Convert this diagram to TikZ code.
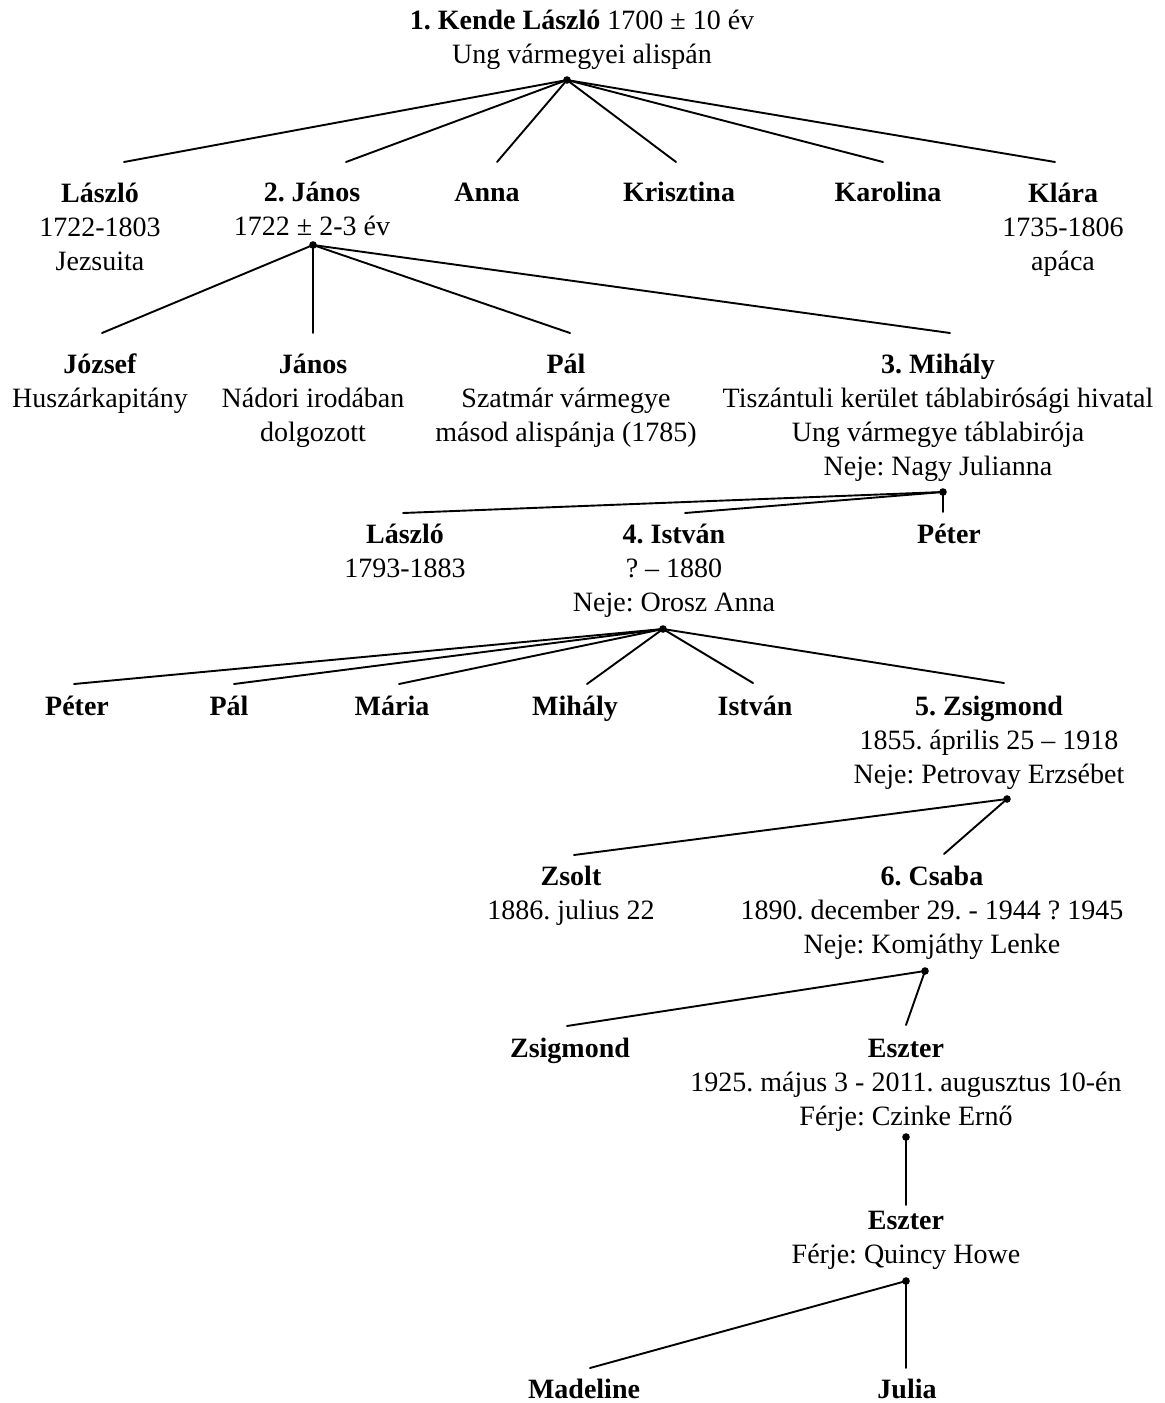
\documentclass[tikz,border=0pt]{standalone}
\usepackage{fontspec}
\setmainfont{Liberation Serif}
\frenchspacing
\begin{document}
\begin{tikzpicture}[x=0.5pt,y=-0.5pt,
  % nodes are placed by the baseline of their LAST line
  person/.style={align=center, anchor=base, inner sep=0pt, font=\fontsize{14}{17}\selectfont},
  dot/.style={circle, fill=black, inner sep=0pt, minimum size=3.8pt},
  link/.style={line width=0.95pt, line cap=round}]
\useasboundingbox[fill=white] (0,0) rectangle (1164,1403);

% generation 1
\node[person] (g1) at (582,63) {\textbf{1. Kende László} 1700 ± 10 év\\Ung vármegyei alispán};
\node[dot] (d1) at (567,80) {};

% generation 2
\node[person] (laszlo1) at (100,270) {\textbf{László}\\1722-1803\\Jezsuita};
\node[person] (janos2) at (312,235) {\textbf{2. János}\\1722 ± 2-3 év};
\node[person] (anna) at (487,201) {\textbf{Anna}};
\node[person] (krisztina) at (679,201) {\textbf{Krisztina}};
\node[person] (karolina) at (888,201) {\textbf{Karolina}};
\node[person] (klara) at (1063,270) {\textbf{Klára}\\1735-1806\\apáca};
\coordinate (e-laszlo1) at (124,162);
\coordinate (e-janos2) at (346,162);
\coordinate (e-anna) at (497,162);
\coordinate (e-krisztina) at (676,162);
\coordinate (e-karolina) at (883,162);
\coordinate (e-klara) at (1055,162);
\foreach \c in {laszlo1,janos2,anna,krisztina,karolina,klara}
  \draw[link] (d1.center) -- (e-\c);

\node[dot] (d2) at (313,245) {};

% generation 3
\node[person] (jozsef) at (100,407) {\textbf{József}\\Huszárkapitány};
\node[person] (janos3) at (313,441) {\textbf{János}\\Nádori irodában\\dolgozott};
\node[person] (pal3) at (566,441) {\textbf{Pál}\\Szatmár vármegye\\másod alispánja (1785)};
\node[person] (mihaly3) at (938,475) {\textbf{3. Mihály}\\Tiszántuli kerület táblabirósági hivatal\\Ung vármegye táblabirója\\Neje: Nagy Julianna};
\coordinate (e-jozsef) at (102,333);
\coordinate (e-janos3) at (313,333);
\coordinate (e-pal3) at (570,333);
\coordinate (e-mihaly3) at (950,333);
\foreach \c in {jozsef,janos3,pal3,mihaly3}
  \draw[link] (d2.center) -- (e-\c);

\node[dot] (d3) at (943,492) {};

% generation 4
\node[person] (laszlo4) at (405,577) {\textbf{László}\\1793-1883};
\node[person] (istvan4) at (674,611) {\textbf{4. István}\\? – 1880\\Neje: Orosz Anna};
\node[person] (peter4) at (949,543) {\textbf{Péter}};
\coordinate (e-laszlo4) at (403,513);
\coordinate (e-istvan4) at (685,513);
\coordinate (e-peter4) at (943,512);
\foreach \c in {laszlo4,istvan4,peter4}
  \draw[link] (d3.center) -- (e-\c);

\node[dot] (d4) at (663,629) {};

% generation 5
\node[person] (peter5) at (77,715) {\textbf{Péter}};
\node[person] (pal5) at (229,715) {\textbf{Pál}};
\node[person] (maria5) at (392,715) {\textbf{Mária}};
\node[person] (mihaly5) at (575,715) {\textbf{Mihály}};
\node[person] (istvan5) at (755,715) {\textbf{István}};
\node[person] (zsigmond5) at (989,783) {\textbf{5. Zsigmond}\\1855. április 25 – 1918\\Neje: Petrovay Erzsébet};
\coordinate (e-peter5) at (74,684);
\coordinate (e-pal5) at (234,684);
\coordinate (e-maria5) at (399,684);
\coordinate (e-mihaly5) at (587,684);
\coordinate (e-istvan5) at (753,683);
\coordinate (e-zsigmond5) at (1004,683);
\foreach \c in {peter5,pal5,maria5,mihaly5,istvan5,zsigmond5}
  \draw[link] (d4.center) -- (e-\c);

\node[dot] (d5) at (1007,799) {};

% generation 6
\node[person] (zsolt) at (571,919) {\textbf{Zsolt}\\1886. julius 22};
\node[person] (csaba) at (932,953) {\textbf{6. Csaba}\\1890. december 29. - 1944 ? 1945\\Neje: Komjáthy Lenke};
\coordinate (e-zsolt) at (574,855);
\coordinate (e-csaba) at (944,854);
\foreach \c in {zsolt,csaba}
  \draw[link] (d5.center) -- (e-\c);

\node[dot] (d6) at (925,971) {};

% generation 7
\node[person] (zsigmond7) at (570,1057) {\textbf{Zsigmond}};
\node[person] (eszter7) at (906,1125) {\textbf{Eszter}\\1925. május 3 - 2011. augusztus 10-én\\Férje: Czinke Ernő};
\coordinate (e-zsigmond7) at (567,1026);
\coordinate (e-eszter7) at (906,1025);
\foreach \c in {zsigmond7,eszter7}
  \draw[link] (d6.center) -- (e-\c);

\node[dot] (d7) at (906,1137) {};

% generation 8
\node[person] (eszter8) at (906,1263) {\textbf{Eszter}\\Férje: Quincy Howe};
\coordinate (e-eszter8) at (906,1205);
\draw[link] (d7.center) -- (e-eszter8);

\node[dot] (d8) at (906,1281) {};

% generation 9
\node[person] (madeline) at (584,1398) {\textbf{Madeline}};
\node[person] (julia) at (907,1398) {\textbf{Julia}};
\coordinate (e-madeline) at (590,1368);
\coordinate (e-julia) at (906,1368);
\foreach \c in {madeline,julia}
  \draw[link] (d8.center) -- (e-\c);
\end{tikzpicture}
\end{document}
